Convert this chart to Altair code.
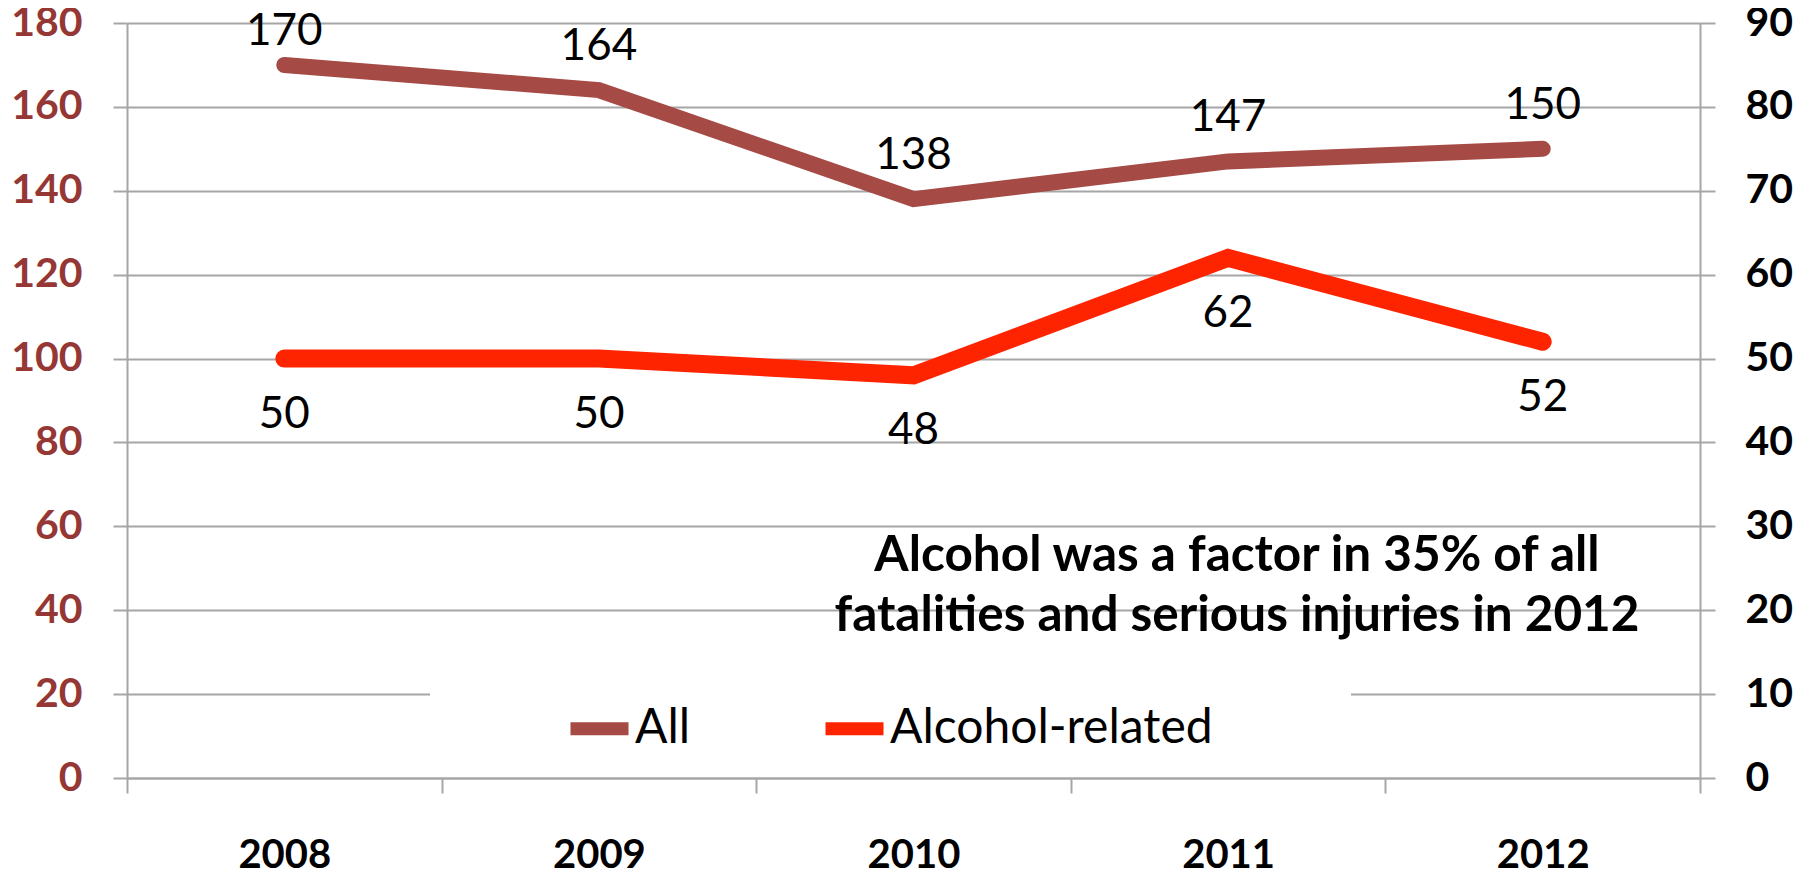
import altair as alt
import pandas as pd

years = ["2008", "2009", "2010", "2011", "2012"]
all_values = [170, 164, 138, 147, 150]
alcohol_values = [50, 50, 48, 62, 52]
left_ticks = [0, 20, 40, 60, 80, 100, 120, 140, 160, 180]
right_ticks = [0, 10, 20, 30, 40, 50, 60, 70, 80, 90]
series_names = ["All", "Alcohol-related"]
series_colors = ["#A64A45", "#FF2400"]
note_lines = ["Alcohol was a factor in 35% of all", "fatalities and serious injuries in 2012"]

FONT = "Lato"
GRID = "#A6A6A6"

df_all = pd.DataFrame({"year": years, "value": all_values, "series": "All"})
df_alc = pd.DataFrame({"year": years, "value": alcohol_values, "series": "Alcohol-related"})

x_enc = alt.X(
    "year:O",
    scale=alt.Scale(type="band", paddingInner=0, paddingOuter=0),
    axis=alt.Axis(
        title=None, labelAngle=0, tickBand="extent", grid=False,
        domain=True, domainColor=GRID, domainWidth=2,
        ticks=True, tickColor=GRID, tickWidth=2, tickSize=15,
        labelFont=FONT, labelFontSize=40, labelFontWeight="bold", labelColor="black",
        labelPadding=42,
    ),
)

color_enc = alt.Color(
    "series:N",
    scale=alt.Scale(domain=series_names, range=series_colors),
    legend=alt.Legend(
        title=None, orient="none", direction="horizontal", legendX=437, legendY=670,
        symbolType="stroke", symbolStrokeWidth=13, symbolSize=3364,
        labelFont=FONT, labelFontSize=48, labelColor="black", labelOffset=0,
        labelLimit=500, columnPadding=108, padding=0,
    ),
)

y_left = alt.Y(
    "value:Q",
    scale=alt.Scale(domain=[0, 180], nice=False),
    axis=alt.Axis(
        title=None, values=left_ticks, grid=True, gridColor=GRID, gridWidth=2,
        domain=True, domainColor=GRID, domainWidth=2,
        ticks=True, tickColor=GRID, tickWidth=2, tickSize=14,
        labelFont=FONT, labelFontSize=41, labelFontWeight="bold", labelColor="#953735",
        labelPadding=31,
    ),
)

y_right = alt.Y(
    "value:Q",
    scale=alt.Scale(domain=[0, 90], nice=False),
    axis=alt.Axis(
        title=None, orient="right", values=right_ticks, grid=False,
        domain=True, domainColor=GRID, domainWidth=2,
        ticks=True, tickColor=GRID, tickWidth=2, tickSize=15,
        labelFont=FONT, labelFontSize=41, labelFontWeight="bold", labelColor="black",
        labelPadding=30,
    ),
)

backdrop = alt.Chart(pd.DataFrame({"k": [0]})).mark_rect(color="white").encode(
    x=alt.value(303), x2=alt.value(1224), y=alt.value(642), y2=alt.value(747)
)

all_base = alt.Chart(df_all)
all_line = all_base.mark_line(strokeWidth=16, strokeCap="round", strokeJoin="miter").encode(
    x=x_enc, y=y_left, color=color_enc
)
# labels above the line; the one that would leave the plot area is kept inside it
all_text = all_base.transform_filter(alt.datum.value < 168).mark_text(
    font=FONT, fontSize=44, color="black", dy=-43, baseline="middle"
).encode(x=alt.X("year:O"), y=alt.Y("value:Q"), text="value:Q")
all_text_top = all_base.transform_filter(alt.datum.value >= 168).mark_text(
    font=FONT, fontSize=44, color="black", dy=-33, baseline="middle"
).encode(x=alt.X("year:O"), y=alt.Y("value:Q"), text="value:Q")
all_layer = alt.layer(all_line, all_text, all_text_top)

alc_base = alt.Chart(df_alc)
alc_line = alc_base.mark_line(strokeWidth=18, strokeCap="round", strokeJoin="miter").encode(
    x=alt.X("year:O"), y=y_right, color=color_enc
)
alc_text = alc_base.mark_text(font=FONT, fontSize=44, color="black", dy=56, baseline="middle").encode(
    x=alt.X("year:O"), y=alt.Y("value:Q"), text="value:Q"
)
alc_layer = alt.layer(alc_line, alc_text)

note = alt.Chart(pd.DataFrame({"k": [0]})).mark_text(
    text=note_lines, font=FONT, fontSize=49.5, fontWeight="bold", color="black",
    lineHeight=60, align="center", baseline="middle",
).encode(x=alt.value(1110), y=alt.value(533))

chart = alt.layer(backdrop, all_layer, alc_layer, note).resolve_scale(y="independent").properties(
    width=1573, height=755,
    padding={"left": 119, "top": 15, "right": 103, "bottom": 100},
    autosize=alt.AutoSizeParams(type="none"),
).configure_view(stroke=None)

chart.save("out.html", embed_options={"renderer": "svg", "actions": False})
